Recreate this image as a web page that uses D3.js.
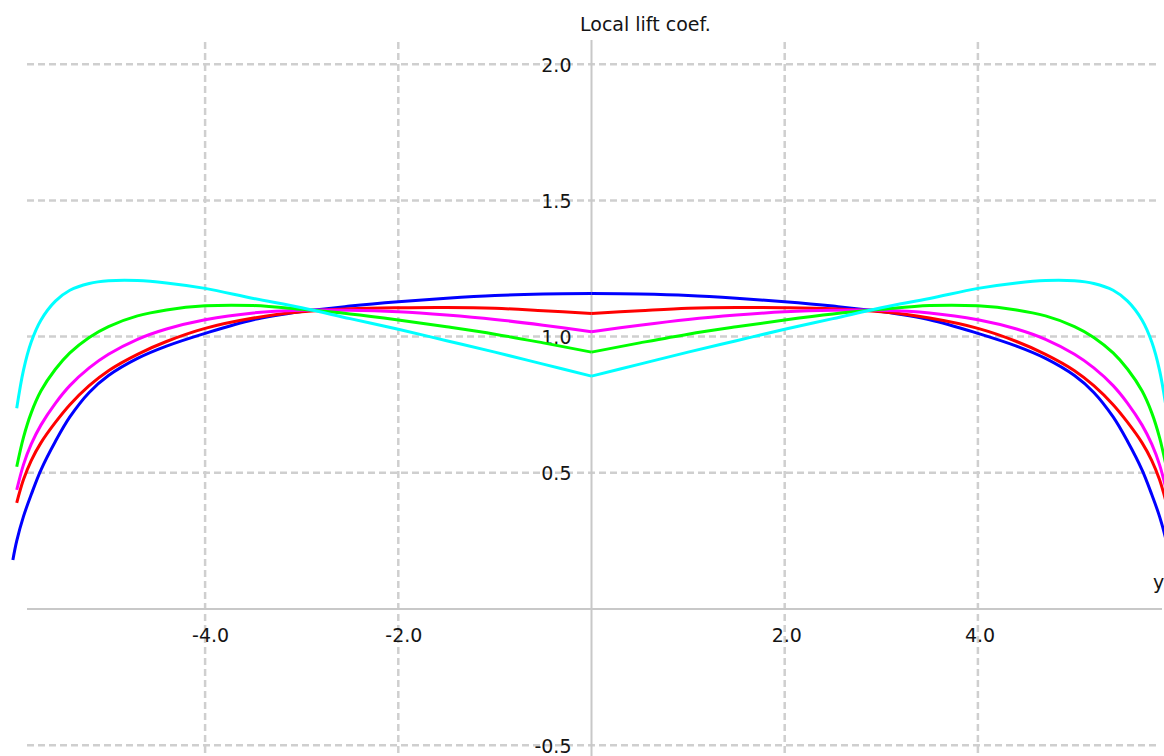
<!DOCTYPE html>
<html>
<head>
<meta charset="utf-8">
<script src="https://cdn.jsdelivr.net/npm/d3@7"></script>
<style>
  html, body { margin: 0; padding: 0; background: #ffffff; }
  svg { display: block; }
  text { font-family: "DejaVu Sans", Verdana, sans-serif; fill: #141414; }
</style>
</head>
<body>
<svg id="chart" width="1164" height="756"></svg>
<script>
// ---- data -------------------------------------------------------------
const stations = [-5.99, -5.95, -5.88, -5.8, -5.7, -5.55, -5.4, -5.2, -5.0, -4.7, -4.4, -4.0, -3.5, -3.0, -2.5, -2.0, -1.5, -1.0, -0.5, 0,
                  0.5, 1.0, 1.5, 2.0, 2.5, 3.0, 3.5, 4.0, 4.4, 4.7, 5.0, 5.2, 5.4, 5.55, 5.7, 5.8, 5.88, 5.95, 5.99];

const blueCl    = [0.18, 0.25, 0.34, 0.42, 0.51, 0.615, 0.705, 0.795, 0.857, 0.92, 0.965, 1.012, 1.062, 1.092, 1.112, 1.128, 1.141, 1.151, 1.156, 1.158,
                   1.156, 1.151, 1.141, 1.128, 1.112, 1.092, 1.062, 1.012, 0.965, 0.92, 0.857, 0.795, 0.705, 0.615, 0.51, 0.42, 0.34, 0.25, 0.18];
const redCl     = [null, 0.39, 0.475, 0.545, 0.61, 0.685, 0.75, 0.82, 0.875, 0.935, 0.982, 1.03, 1.068, 1.091, 1.102, 1.106, 1.107, 1.104, 1.095, 1.085,
                   1.095, 1.104, 1.107, 1.106, 1.102, 1.091, 1.068, 1.03, 0.982, 0.935, 0.875, 0.82, 0.75, 0.685, 0.61, 0.545, 0.475, 0.39, null];
const magentaCl = [null, 0.437, 0.53, 0.605, 0.675, 0.755, 0.82, 0.885, 0.935, 0.99, 1.028, 1.062, 1.087, 1.097, 1.097, 1.091, 1.079, 1.063, 1.042, 1.018,
                   1.042, 1.063, 1.079, 1.091, 1.097, 1.097, 1.087, 1.062, 1.028, 0.99, 0.935, 0.885, 0.82, 0.755, 0.675, 0.605, 0.53, 0.437, null];
const greenCl   = [null, 0.522, 0.63, 0.72, 0.80, 0.88, 0.94, 0.997, 1.037, 1.076, 1.098, 1.113, 1.114, 1.10, 1.083, 1.061, 1.036, 1.009, 0.977, 0.943,
                   0.977, 1.009, 1.036, 1.061, 1.083, 1.10, 1.114, 1.113, 1.098, 1.076, 1.037, 0.997, 0.94, 0.88, 0.80, 0.72, 0.63, 0.522, null];
const cyanCl    = [null, 0.737, 0.877, 0.98, 1.06, 1.13, 1.17, 1.195, 1.205, 1.206, 1.197, 1.177, 1.14, 1.106, 1.066, 1.027, 0.985, 0.943, 0.899, 0.855,
                   0.899, 0.943, 0.985, 1.027, 1.066, 1.106, 1.14, 1.177, 1.197, 1.206, 1.205, 1.195, 1.17, 1.13, 1.06, 0.98, 0.877, 0.737, null];

const seriesNames  = ["blue", "red", "magenta", "green", "cyan"];
const seriesValues = [blueCl, redCl, magentaCl, greenCl, cyanCl];
const seriesColors = ["#0000ff", "#ff0000", "#ff00ff", "#00ff00", "#00ffff"];

const xTicks = [-4, -2, 2, 4];
const xTickLabels = ["-4.0", "-2.0", "2.0", "4.0"];
const yTicks = [2.0, 1.5, 1.0, 0.5, -0.5];
const yTickLabels = ["2.0", "1.5", "1.0", "0.5", "-0.5"];

const yAxisTitle = "Local lift coef.";
const xAxisTitle = "y";

// ---- drawing ----------------------------------------------------------
const svg = d3.select("#chart");

const x = d3.scaleLinear().domain([-6, 6]).range([591.5 - 6 * 96.6, 591.5 + 6 * 96.6]);
const y = d3.scaleLinear().domain([-0.5, 2.0]).range([745.2, 64.2]);

const gridColor = "#cfcfcf";
const axisColor = "#c8c8c8";

// horizontal grid
svg.append("g").selectAll("line").data(yTicks).join("line")
  .attr("x1", 27).attr("x2", 1160)
  .attr("y1", d => y(d)).attr("y2", d => y(d))
  .attr("stroke", gridColor).attr("stroke-width", 2.5)
  .attr("stroke-dasharray", "7,4");

// vertical grid
svg.append("g").selectAll("line").data(xTicks).join("line")
  .attr("x1", d => x(d)).attr("x2", d => x(d))
  .attr("y1", 42).attr("y2", 756)
  .attr("stroke", gridColor).attr("stroke-width", 2.5)
  .attr("stroke-dasharray", "7,4");

// axes
svg.append("line")
  .attr("x1", 27).attr("x2", 1162)
  .attr("y1", y(0)).attr("y2", y(0))
  .attr("stroke", axisColor).attr("stroke-width", 2);
svg.append("line")
  .attr("x1", x(0)).attr("x2", x(0))
  .attr("y1", 40).attr("y2", 756)
  .attr("stroke", axisColor).attr("stroke-width", 2);

// tick labels
svg.append("g").selectAll("text").data(yTicks).join("text")
  .attr("x", x(0) - 20)
  .attr("y", d => y(d) + 7.5)
  .attr("text-anchor", "end")
  .attr("font-size", 19)
  .text((d, i) => yTickLabels[i]);

svg.append("g").selectAll("text").data(xTicks).join("text")
  .attr("x", d => x(d) - 13)
  .attr("y", 642)
  .attr("text-anchor", "start")
  .attr("font-size", 19)
  .text((d, i) => xTickLabels[i]);

// axis titles
svg.append("text").attr("x", 580).attr("y", 31).attr("font-size", 19).text(yAxisTitle);
svg.append("text").attr("x", 1153).attr("y", 589).attr("font-size", 19).text(xAxisTitle);

// curves (left half and right half drawn separately to keep the centre kink)
const line = d3.line()
  .defined(d => d[1] != null)
  .x(d => x(d[0]))
  .y(d => y(d[1]))
  .curve(d3.curveCatmullRom.alpha(0.5));

const curves = svg.append("g");
seriesValues.forEach((vals, i) => {
  const pts = stations.map((s, k) => [s, vals[k]]).filter(p => p[1] != null);
  const left = pts.filter(p => p[0] <= 0);
  const right = pts.filter(p => p[0] >= 0);
  [left, right].forEach(part => {
    curves.append("path")
      .datum(part)
      .attr("fill", "none")
      .attr("stroke", seriesColors[i])
      .attr("stroke-width", 3)
      .attr("stroke-linejoin", "round")
      .attr("d", line)
      .attr("class", "series-" + seriesNames[i]);
  });
});
</script>
</body>
</html>
